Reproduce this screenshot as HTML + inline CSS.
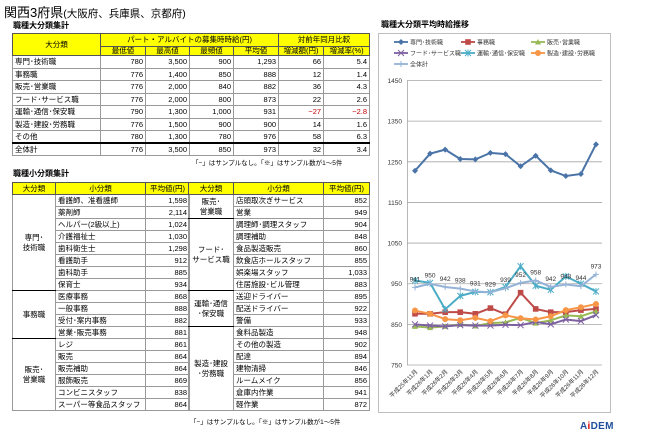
<!DOCTYPE html>
<html><head><meta charset="utf-8">
<style>
body{margin:0;width:650px;height:443px;background:#fff;position:relative;overflow:hidden;font-family:"Liberation Sans","Noto Sans CJK JP",sans-serif;color:#000}
.abs{position:absolute}
table{border-collapse:collapse;position:absolute;font-size:7.5px;table-layout:fixed}
td{padding:0 2px;border:1px solid #999;white-space:nowrap;overflow:hidden;line-height:1}
.hd td{background:#ffff00;text-align:center;border-color:#555}
.n{text-align:right}
.neg{color:#c00000}
.c{text-align:center}
.t2 tr{height:12px}
.t2 td{height:11px;line-height:11px;padding-top:0;padding-bottom:0}
</style></head><body>
<div class="abs" style="left:4px;top:2px;font-size:13px">関西3府県<span style="font-size:10.5px">(大阪府、兵庫県、京都府)</span></div>
<div class="abs" style="left:13px;top:20px;font-size:8px;font-weight:bold">職種大分類集計</div>

<table style="left:12px;top:33px;width:357px;border:1.5px solid #000">
<colgroup><col style="width:88px"><col style="width:45px"><col style="width:44px"><col style="width:44px"><col style="width:45px"><col style="width:45px"><col style="width:46px"></colgroup>
<tr class="hd" style="height:13px"><td rowspan="2">大分類</td><td colspan="4">パート・アルバイトの募集時時給(円)</td><td colspan="2">対前年同月比較</td></tr>
<tr class="hd" style="height:9px"><td>最低値</td><td>最高値</td><td>最頻値</td><td>平均値</td><td>増減額(円)</td><td>増減率(%)</td></tr>
<tr style="height:12.5px"><td>専門･技術職</td><td class="n">780</td><td class="n">3,500</td><td class="n">900</td><td class="n">1,293</td><td class="n">66</td><td class="n">5.4</td></tr>
<tr style="height:12.5px"><td>事務職</td><td class="n">776</td><td class="n">1,400</td><td class="n">850</td><td class="n">888</td><td class="n">12</td><td class="n">1.4</td></tr>
<tr style="height:12.5px"><td>販売･営業職</td><td class="n">776</td><td class="n">2,000</td><td class="n">840</td><td class="n">882</td><td class="n">36</td><td class="n">4.3</td></tr>
<tr style="height:12.5px"><td>フード･サービス職</td><td class="n">776</td><td class="n">2,000</td><td class="n">800</td><td class="n">873</td><td class="n">22</td><td class="n">2.6</td></tr>
<tr style="height:12.5px"><td>運輸･通信･保安職</td><td class="n">790</td><td class="n">1,300</td><td class="n">1,000</td><td class="n">931</td><td class="n neg">−27</td><td class="n neg">−2.8</td></tr>
<tr style="height:12.5px"><td>製造･建設･労務職</td><td class="n">776</td><td class="n">1,500</td><td class="n">900</td><td class="n">900</td><td class="n">14</td><td class="n">1.6</td></tr>
<tr style="height:12.5px"><td>その他</td><td class="n">780</td><td class="n">1,300</td><td class="n">780</td><td class="n">976</td><td class="n">58</td><td class="n">6.3</td></tr>
<tr style="height:12.5px;border-top:2px double #000"><td>全体計</td><td class="n">776</td><td class="n">3,500</td><td class="n">850</td><td class="n">973</td><td class="n">32</td><td class="n">3.4</td></tr>
</table>
<div class="abs" style="left:192px;top:157px;font-size:6.5px">「−」はサンプルなし。「※」はサンプル数が1〜5件</div>

<div class="abs" style="left:13px;top:168px;font-size:8px;font-weight:bold">職種小分類集計</div>

<table class="t2" style="left:12px;top:182px;width:177px;border:1.5px solid #000">
<colgroup><col style="width:43px"><col style="width:90px"><col style="width:44px"></colgroup>
<tr class="hd"><td>大分類</td><td>小分類</td><td>平均値(円)</td></tr>
<tr><td rowspan="8" class="c" style="white-space:normal;line-height:1.3;border-bottom:1.5px solid #000">専門･<br>技術職</td><td>看護師、准看護師</td><td class="n">1,598</td></tr>
<tr><td>薬剤師</td><td class="n">2,114</td></tr>
<tr><td>ヘルパー(2級以上)</td><td class="n">1,024</td></tr>
<tr><td>介護福祉士</td><td class="n">1,030</td></tr>
<tr><td>歯科衛生士</td><td class="n">1,298</td></tr>
<tr><td>看護助手</td><td class="n">912</td></tr>
<tr><td>歯科助手</td><td class="n">885</td></tr>
<tr style="border-bottom:1.5px solid #000"><td>保育士</td><td class="n">934</td></tr>
<tr><td rowspan="4" class="c" style="border-bottom:1.5px solid #000">事務職</td><td>医療事務</td><td class="n">868</td></tr>
<tr><td>一般事務</td><td class="n">888</td></tr>
<tr><td>受付･案内事務</td><td class="n">882</td></tr>
<tr style="border-bottom:1.5px solid #000"><td>営業･販売事務</td><td class="n">881</td></tr>
<tr><td rowspan="6" class="c" style="line-height:1.3">販売･<br>営業職</td><td>レジ</td><td class="n">861</td></tr>
<tr><td>販売</td><td class="n">864</td></tr>
<tr><td>販売補助</td><td class="n">864</td></tr>
<tr><td>服飾販売</td><td class="n">869</td></tr>
<tr><td>コンビニスタッフ</td><td class="n">838</td></tr>
<tr><td>スーパー等食品スタッフ</td><td class="n">864</td></tr>
</table>

<table class="t2" style="left:188px;top:182px;width:181px;border:1.5px solid #000">
<colgroup><col style="width:45px"><col style="width:90px"><col style="width:46px"></colgroup>
<tr class="hd"><td>大分類</td><td>小分類</td><td>平均値(円)</td></tr>
<tr><td rowspan="2" class="c" style="line-height:1.3;border-bottom:1.5px solid #000">販売･<br>営業職</td><td>店頭取次ぎサービス</td><td class="n">852</td></tr>
<tr style="border-bottom:1.5px solid #000"><td>営業</td><td class="n">949</td></tr>
<tr><td rowspan="6" class="c" style="line-height:1.3;border-bottom:1.5px solid #000">フード･<br>サービス職</td><td>調理師･調理スタッフ</td><td class="n">904</td></tr>
<tr><td>調理補助</td><td class="n">848</td></tr>
<tr><td>食品製造販売</td><td class="n">860</td></tr>
<tr><td>飲食店ホールスタッフ</td><td class="n">855</td></tr>
<tr><td>娯楽場スタッフ</td><td class="n">1,033</td></tr>
<tr style="border-bottom:1.5px solid #000"><td>住居施設･ビル管理</td><td class="n">883</td></tr>
<tr><td rowspan="3" class="c" style="line-height:1.3;border-bottom:1.5px solid #000">運輸･通信<br>･保安職</td><td>送迎ドライバー</td><td class="n">895</td></tr>
<tr><td>配送ドライバー</td><td class="n">922</td></tr>
<tr style="border-bottom:1.5px solid #000"><td>警備</td><td class="n">933</td></tr>
<tr><td rowspan="7" class="c" style="line-height:1.3">製造･建設<br>･労務職</td><td>食料品製造</td><td class="n">948</td></tr>
<tr><td>その他の製造</td><td class="n">902</td></tr>
<tr><td>配達</td><td class="n">894</td></tr>
<tr><td>建物清掃</td><td class="n">846</td></tr>
<tr><td>ルームメイク</td><td class="n">856</td></tr>
<tr><td>倉庫内作業</td><td class="n">941</td></tr>
<tr><td>軽作業</td><td class="n">872</td></tr>
</table>
<div class="abs" style="left:190px;top:416px;font-size:6.5px">「−」はサンプルなし。「※」はサンプル数が1〜5件</div>

<div class="abs" style="left:381px;top:19px;font-size:8px;font-weight:bold">職種大分類平均時給推移</div>
<svg id="chart" class="abs" style="left:0;top:0" width="650" height="443"></svg>
<div class="abs" style="left:580px;top:421px;font-size:10px;font-weight:bold;color:#1f4e9c;letter-spacing:0.3px">A<span style="color:#d00">i</span>DEM</div>

<script>
const categories=["平成25年11月","平成26年1月","平成26年2月","平成26年3月","平成26年4月","平成26年5月","平成26年6月","平成26年7月","平成26年8月","平成26年9月","平成26年10月","平成26年11月","平成26年12月"];
const seriesNames=["専門･技術職","事務職","販売･営業職","フード･サービス職","運輸･通信･保安職","製造･建設･労務職","全体計"];
const senmon=[1228,1270,1280,1257,1256,1272,1269,1239,1265,1229,1215,1220,1293];
const jimu=[876,876,880,880,876,890,875,928,888,880,880,885,888];
const hanbai=[845,842,845,850,846,853,855,866,853,860,872,870,882];
const food=[850,847,845,848,847,847,849,848,856,850,862,858,873];
const unyu=[958,952,887,920,930,929,942,993,945,935,968,950,931];
const seizo=[884,876,863,860,866,858,872,865,862,870,885,892,900];
const zentai=[941,950,942,938,931,929,939,952,958,942,948,944,973];
const yTicks=[750,850,950,1050,1150,1250,1350,1450];

const svg=document.getElementById('chart');
const NS='http://www.w3.org/2000/svg';
function mk(tag,attrs,parent){const e=document.createElementNS(NS,tag);for(const k in attrs)e.setAttribute(k,attrs[k]);(parent||svg).appendChild(e);return e;}
const X0=415,X1=596,Y750=365,PXU=0.4064;
function xs(i){return X0+(X1-X0)*i/(categories.length-1);}
function ys(v){return Y750-(v-750)*PXU;}

const frame=mk('rect',{x:378.5,y:33.5,width:232,height:379,fill:'none',stroke:'#bfbfbf'});


yTicks.forEach(t=>{
  const g=mk('line',{x1:407,x2:602,y1:ys(t),y2:ys(t),stroke:'#a6a6a6','stroke-width':0.8});
  
  
  const tx=mk('text',{x:402,y:ys(t)+2.5,'font-size':6.5,'text-anchor':'end',fill:'#333'});
  tx.textContent=t;
  
  
});
const ax=mk('line',{x1:407.5,x2:407.5,y1:ys(1450),y2:ys(750),stroke:'#a6a6a6','stroke-width':0.8});


categories.forEach((c,i)=>{
  const x=xs(i);
  const t=mk('text',{x:x+3,y:372,'font-size':6,'text-anchor':'end',fill:'#333',transform:`rotate(-45 ${x+3} 372)`});
  t.textContent=c;
  
  
});

const defs=[
 {d:senmon,c:'#4a74a8',m:'diamond'},
 {d:jimu,c:'#be4b48',m:'square'},
 {d:hanbai,c:'#98b954',m:'triangle'},
 {d:food,c:'#7d60a0',m:'x'},
 {d:unyu,c:'#4bacc6',m:'star'},
 {d:seizo,c:'#f79646',m:'circle'},
 {d:zentai,c:'#95b3d7',m:'plus'}
];
function marker(g,type,x,y,c){
  let e;
  if(type==='diamond')e=mk('path',{d:`M${x} ${y-3}L${x+3} ${y}L${x} ${y+3}L${x-3} ${y}Z`,fill:c},g);
  else if(type==='square')e=mk('rect',{x:x-2.8,y:y-2.8,width:5.6,height:5.6,fill:c},g);
  else if(type==='triangle')e=mk('path',{d:`M${x} ${y-3}L${x+3} ${y+2.5}L${x-3} ${y+2.5}Z`,fill:c},g);
  else if(type==='circle')e=mk('circle',{cx:x,cy:y,r:3,fill:c},g);
  else if(type==='x')e=mk('path',{d:`M${x-3} ${y-3}L${x+3} ${y+3}M${x+3} ${y-3}L${x-3} ${y+3}`,stroke:c,'stroke-width':1},g);
  else if(type==='star')e=mk('path',{d:`M${x-3} ${y-3}L${x+3} ${y+3}M${x+3} ${y-3}L${x-3} ${y+3}M${x} ${y-3.5}L${x} ${y+3.5}`,stroke:c,'stroke-width':1},g);
  else e=mk('path',{d:`M${x-3} ${y}L${x+3} ${y}M${x} ${y-3}L${x} ${y+3}`,stroke:c,'stroke-width':1},g);
  
  
}
defs.forEach((s,si)=>{
  const g=mk('g',{});
  
  
  const pts=s.d.map((v,i)=>xs(i)+','+ys(v)).join(' ');
  const pl=mk('polyline',{points:pts,fill:'none',stroke:s.c,'stroke-width':2},g);
  
  
  s.d.forEach((v,i)=>marker(g,s.m,xs(i),ys(v),s.c));
});
zentai.forEach((v,i)=>{
  const t=mk('text',{x:xs(i),y:ys(v)-6,'font-size':6.5,'text-anchor':'middle',fill:'#333'});
  t.textContent=v;
  
  
});
const lx=[394,461,531],ly=[42,53,64];
seriesNames.forEach((n,i)=>{
  const x=lx[i%3],y=ly[Math.floor(i/3)];
  const g=mk('g',{});
  
  
  mk('line',{x1:x,x2:x+14,y1:y,y2:y,stroke:defs[i].c,'stroke-width':1.8},g);
  marker(g,defs[i].m,x+7,y,defs[i].c);
  const t=mk('text',{x:x+16,y:y+2.3,'font-size':6,fill:'#333'},g);
  t.textContent=n;
});
</script>
</body></html>
